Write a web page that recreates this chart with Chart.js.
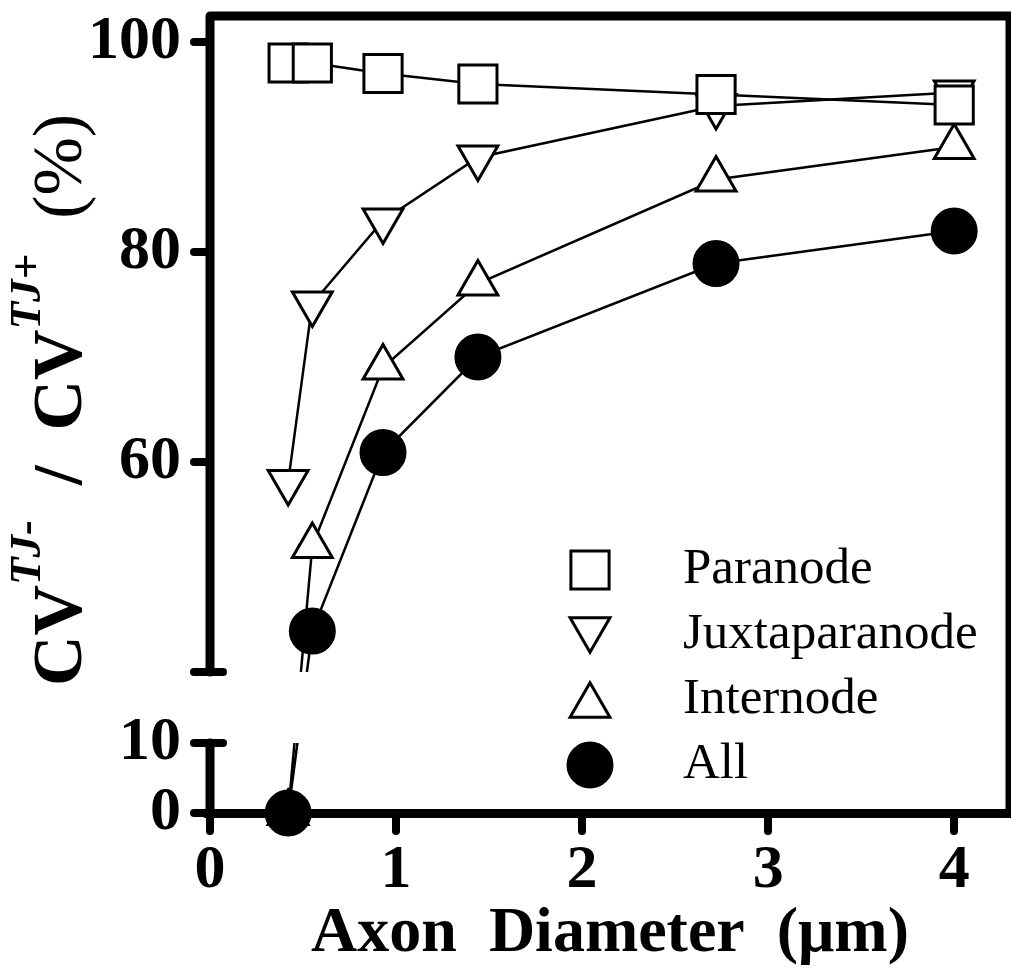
<!DOCTYPE html>
<html>
<head>
<meta charset="utf-8">
<style>
  html, body { margin: 0; padding: 0; background: #ffffff; overflow: hidden; }
  canvas { display: block; }
</style>
<script src="https://cdn.jsdelivr.net/npm/chart.js@4.4.1/dist/chart.umd.min.js"></script>
</head>
<body>
<canvas id="chart" width="1011" height="973"></canvas>
<script>
// ---------------- data ----------------
const axonDiameter = [0.42, 0.55, 0.93, 1.44, 2.72, 4.0];
const paranode      = [98, 98, 97, 96, 95, 94];
const juxtaparanode = [58.1, 75.1, 83.0, 89.0, 93.9, 95.2];
const internode     = [0, 52.0, 69.0, 77.0, 86.9, 90.0];
const allRegions    = [0, 43.9, 60.9, 70.0, 78.9, 82.0];
const seriesLabels  = ['Paranode', 'Juxtaparanode', 'Internode', 'All'];
const xTickValues   = [0, 1, 2, 3, 4];
const yTickValues   = [0, 10, 40, 60, 80, 100];
const yLowerRange   = [0, 10];
const yUpperRange   = [40, 100];
const xTitle = 'Axon  Diameter  (\u03bcm)';
const yTitleRuns = [
  { text: 'CV', kind: 'main' },
  { text: 'TJ-', kind: 'sup' },
  { text: '  /  ', kind: 'main' },
  { text: 'CV', kind: 'main' },
  { text: 'TJ+', kind: 'sup' },
  { text: '  (%)', kind: 'plain' }
];

// ---------------- layout of the broken y axis (pixel weights) ----------------
const yBreakLayout = { lowerSpan: 70, gapSpan: 71, upperSpan: 630, headSpan: 26 };
const SERIF = '"Liberation Serif", "Times New Roman", serif';

class BrokenLinearScale extends Chart.LinearScale {
  getPixelForValue(value) {
    if (value === null || value === undefined || isNaN(value)) return NaN;
    const b = yBreakLayout;
    const total = b.lowerSpan + b.gapSpan + b.upperSpan + b.headSpan;
    let f;
    if (value <= yLowerRange[1]) {
      f = (value - yLowerRange[0]) / (yLowerRange[1] - yLowerRange[0]) * b.lowerSpan;
    } else if (value >= yUpperRange[0]) {
      f = b.lowerSpan + b.gapSpan + (value - yUpperRange[0]) / (yUpperRange[1] - yUpperRange[0]) * b.upperSpan;
    } else {
      f = b.lowerSpan + (value - yLowerRange[1]) / (yUpperRange[0] - yLowerRange[1]) * b.gapSpan;
    }
    return this.getPixelForDecimal(f / total);
  }
}
BrokenLinearScale.id = 'brokenLinear';
BrokenLinearScale.defaults = {};
Chart.register(BrokenLinearScale);

const toPoints = (ys) => axonDiameter.map((x, i) => ({ x: x, y: ys[i] }));

const baseSet = {
  borderColor: '#000',
  borderWidth: 2.5,
  pointBorderColor: '#000',
  pointBorderWidth: 3,
  pointHoverRadius: 0,
  tension: 0,
  fill: false,
  clip: false
};

const datasets = [
  Object.assign({}, baseSet, { label: seriesLabels[0], data: toPoints(paranode),
    pointStyle: 'rect', pointRadius: 27, pointRotation: 0, pointBackgroundColor: '#fff', order: 1 }),
  Object.assign({}, baseSet, { label: seriesLabels[1], data: toPoints(juxtaparanode),
    pointStyle: 'triangle', pointRadius: 23, pointRotation: 180, pointBackgroundColor: '#fff', order: 2 }),
  Object.assign({}, baseSet, { label: seriesLabels[2], data: toPoints(internode),
    pointStyle: 'triangle', pointRadius: 23, pointRotation: 0, pointBackgroundColor: '#fff', order: 3 }),
  Object.assign({}, baseSet, { label: seriesLabels[3], data: toPoints(allRegions),
    pointStyle: 'circle', pointRadius: 22, pointRotation: 0, pointBackgroundColor: '#000', order: 0 })
];

// frame, broken axis, clipping of the gap, legend and rich y title
const decorPlugin = {
  id: 'decor',
  beforeDraw(chart) {
    chart.ctx.lineCap = 'round';
  },
  beforeDatasetsDraw(chart) {
    const ctx = chart.ctx, a = chart.chartArea, y = chart.scales.y;
    const yLow = y.getPixelForValue(yLowerRange[1]);
    const yHigh = y.getPixelForValue(yUpperRange[0]);
    ctx.save();
    ctx.strokeStyle = '#000';
    ctx.lineWidth = 9;
    ctx.lineCap = 'round';
    ctx.lineJoin = 'round';
    ctx.beginPath();
    ctx.moveTo(a.left, yHigh);
    ctx.lineTo(a.left, a.top);
    ctx.lineTo(a.right, a.top);
    ctx.lineTo(a.right, a.bottom);
    ctx.stroke();
    ctx.beginPath();
    ctx.moveTo(a.left, yLow);
    ctx.lineTo(a.left, a.bottom);
    ctx.stroke();
    ctx.lineWidth = 8;
    [yHigh, yLow].forEach((py) => {
      ctx.beginPath();
      ctx.moveTo(a.left - 13, py);
      ctx.lineTo(a.left + 13, py);
      ctx.stroke();
    });
    ctx.restore();
    // hide data lines inside the axis break
    ctx.save();
    ctx.beginPath();
    ctx.rect(0, 0, chart.width, yHigh);
    ctx.rect(0, yLow, chart.width, chart.height - yLow);
    ctx.clip();
  },
  afterDatasetsDraw(chart) {
    chart.ctx.restore();
  },
  afterDraw(chart) {
    const ctx = chart.ctx, a = chart.chartArea;
    // legend
    ctx.save();
    chart.data.datasets.forEach((ds, i) => {
      const cy = a.bottom - 243 + i * 65;
      const cx = a.left + 380;
      let py = cy;
      if (ds.pointStyle === 'triangle') py += (ds.pointRotation ? -1 : 1) * ds.pointRadius / 4;
      ctx.fillStyle = ds.pointBackgroundColor;
      ctx.strokeStyle = ds.pointBorderColor;
      ctx.lineWidth = ds.pointBorderWidth;
      Chart.helpers.drawPoint(ctx, { pointStyle: ds.pointStyle, rotation: ds.pointRotation, radius: ds.pointRadius, borderWidth: ds.pointBorderWidth }, cx, py);
      ctx.fillStyle = '#000';
      ctx.font = '51px ' + SERIF;
      ctx.textAlign = 'left';
      ctx.textBaseline = 'middle';
      ctx.fillText(ds.label, a.left + 473, cy);
    });
    ctx.restore();

    // y axis title with superscripts
    const fonts = {
      main: 'bold 70px ' + SERIF,
      sup: 'italic bold 45px ' + SERIF,
      plain: '70px ' + SERIF
    };
    ctx.save();
    let total = 0;
    yTitleRuns.forEach((r) => { ctx.font = fonts[r.kind]; r.w = ctx.measureText(r.text).width; total += r.w; });
    ctx.translate(81, 400);
    ctx.rotate(-Math.PI / 2);
    ctx.fillStyle = '#000';
    ctx.textAlign = 'left';
    ctx.textBaseline = 'alphabetic';
    let x = -total / 2;
    yTitleRuns.forEach((r) => {
      ctx.font = fonts[r.kind];
      ctx.fillText(r.text, x, r.kind === 'sup' ? -41 : 0);
      x += r.w;
    });
    ctx.restore();
  }
};

const tickFont = { family: SERIF, weight: 'bold', size: 62 };

new Chart(document.getElementById('chart'), {
  type: 'line',
  data: { datasets: datasets },
  plugins: [decorPlugin],
  options: {
    responsive: false,
    devicePixelRatio: 1,
    animation: false,
    events: [],
    layout: { autoPadding: false, padding: { left: 0, top: 16, right: 1, bottom: 0 } },
    plugins: { legend: { display: false }, tooltip: { enabled: false }, title: { display: false } },
    scales: {
      x: {
        type: 'linear',
        min: 0,
        max: 4.3,
        afterBuildTicks: (s) => { s.ticks = xTickValues.map((v) => ({ value: v })); },
        afterFit: (s) => { s.height = 160; s.paddingLeft = 0; s.paddingRight = 0; },
        border: { display: true, width: 9, color: '#000' },
        grid: { drawOnChartArea: false, drawTicks: true, tickLength: 18, lineWidth: 8, color: '#000' },
        ticks: { autoSkip: false, maxRotation: 0, padding: 3, color: '#000', font: tickFont,
                 callback: (v) => String(v) },
        title: { display: true, text: xTitle, color: '#000',
                 font: { family: SERIF, weight: 'bold', size: 64 }, padding: { top: 0, bottom: 0 } }
      },
      y: {
        type: 'brokenLinear',
        min: 0,
        max: 100,
        afterBuildTicks: (s) => { s.ticks = yTickValues.map((v) => ({ value: v })); },
        afterFit: (s) => { s.width = 210; s.paddingTop = 0; s.paddingBottom = 0; },
        border: { display: false },
        grid: { drawOnChartArea: false, drawTicks: true, tickLength: 16, lineWidth: 8, color: '#000' },
        ticks: { autoSkip: false, padding: 13, color: '#000', font: tickFont,
                 callback: (v) => (v === yUpperRange[0] ? '' : String(v)) }
      }
    }
  }
});
</script>
</body>
</html>
